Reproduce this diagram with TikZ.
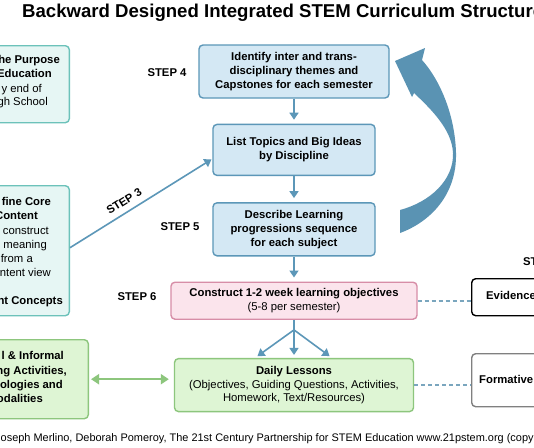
\documentclass[tikz,border=0pt]{standalone}
\usepackage{fontspec}
\setmainfont{Liberation Sans}
\usetikzlibrary{positioning,arrows.meta}

\definecolor{fondoblu}{HTML}{D4E8F4}
\definecolor{bordoblu}{HTML}{5C97B8}
\definecolor{fondoteal}{HTML}{E6F6F4}
\definecolor{bordoteal}{HTML}{6CC2BA}
\definecolor{fondoverde}{HTML}{DEF5D4}
\definecolor{bordoverde}{HTML}{8DC67D}
\definecolor{fondorosa}{HTML}{FBE4EC}
\definecolor{bordorosa}{HTML}{D78DA7}
\definecolor{trattino}{HTML}{7AA6BE}
\definecolor{grande}{HTML}{5A93B3}

\tikzset{
  box/.style={draw, rounded corners=4pt, line width=1.4pt, align=center, inner sep=2pt,
    font=\bfseries\fontsize{11.3}{13.8}\selectfont},
  blubox/.style={box, draw=bordoblu, fill=fondoblu},
  tealbox/.style={box, draw=bordoteal, fill=fondoteal},
  verdebox/.style={box, draw=bordoverde, fill=fondoverde},
  rosabox/.style={box, draw=bordorosa, fill=fondorosa},
  frag/.style={anchor=mid east, inner sep=0pt, font=\fontsize{11.3}{13.8}\selectfont},
  fragb/.style={frag, font=\bfseries\fontsize{11.3}{13.8}\selectfont},
  passo/.style={inner sep=0pt, font=\bfseries\fontsize{11.3}{13.8}\selectfont},
  freccia/.style={-{Triangle[width=9pt,length=7pt]}, line width=1.6pt, draw=bordoblu, shorten >=4pt},
  tratteggio/.style={draw=trattino, line width=1.6pt, dash pattern=on 4pt off 3pt},
}

\begin{document}
\begin{tikzpicture}[x=1pt,y=-1pt]
  \useasboundingbox (0,0) rectangle (534,447);
  \fill[white] (0,0) rectangle (534,447);
  \clip (0,0) rectangle (534,447);

  % Titolo
  \node[anchor=base west, inner sep=0pt, font=\bfseries\fontsize{18.6}{21}\selectfont] (titolo) at (22,17)
    {Backward Designed Integrated STEM Curriculum Structure};

  % Colonna centrale
  \node[blubox, minimum width=190pt, minimum height=53pt] (temi) at (294,71.5)
    {Identify inter and trans-\\disciplinary themes and\\Capstones for each semester};
  \node[blubox, minimum width=162pt, minimum height=51pt, below=25pt of temi] (topics)
    {List Topics and Big Ideas\\by Discipline};
  \node[blubox, minimum width=162pt, minimum height=53pt, below=26pt of topics] (progr)
    {Describe Learning\\progressions sequence\\for each subject};
  \node[rosabox, minimum width=246pt, minimum height=37pt, below=25pt of progr] (obiettivi)
    {Construct 1-2 week learning objectives\\{\mdseries (5-8 per semester)}};
  \node[verdebox, minimum width=239pt, minimum height=53pt, below=38pt of obiettivi] (lezioni)
    {Daily Lessons\\{\mdseries (Objectives, Guiding Questions, Activities,}\\{\mdseries Homework, Text/Resources)}};

  % Etichette dei passi
  \node[passo] (step4) at (167,73) {STEP 4};
  \node[passo] (step5) at (180,227) {STEP 5};
  \node[passo] (step6) at (137,297) {STEP 6};
  \node[passo, anchor=mid west] (step7) at (523,263) {ST};

  % Riquadri a sinistra (tagliati dal bordo)
  \node[tealbox, minimum width=110pt, minimum height=77pt, anchor=north east] (scopo) at (70,45) {};
  \node[fragb] (s1) at (60,61) {he Purpose};
  \node[fragb] (s2) at (52,75) {Education};
  \node[frag] (s3) at (42,90) {y end of};
  \node[frag] (s4) at (48,103) {gh School};

  \node[tealbox, minimum width=110pt, minimum height=130pt, anchor=north east] (nucleo) at (70,185) {};
  \node[fragb] (n1) at (51,203) {fine Core};
  \node[fragb] (n2) at (38,217) {Content};
  \node[frag] (n3) at (49,232) {construct};
  \node[frag] (n4) at (47,246) {meaning};
  \node[frag] (n5) at (33,260) {from a};
  \node[frag] (n6) at (51,274) {ntent view};
  \node[fragb] (n7) at (63,302) {nt Concepts};

  \node[verdebox, minimum width=120pt, minimum height=79pt, anchor=north east] (formale) at (89,339) {};
  \node[fragb] (f1) at (64,357) {l \& Informal};
  \node[fragb] (f2) at (67,372) {ng Activities,};
  \node[fragb] (f3) at (63,386) {ologies and};
  \node[fragb] (f4) at (43,400) {odalities};

  % Riquadri a destra
  \node[box, draw=black, minimum width=100pt, minimum height=37pt, anchor=north west] (evidenze) at (471,278) {};
  \node[passo, anchor=mid west] (ev) at (486,297) {Evidence};
  \node[box, draw=black!50, minimum width=100pt, minimum height=53pt, anchor=north west] (formativa) at (471,353) {};
  \node[passo, anchor=mid west] (fo) at (479,381) {Formative};

  % Frecce
  \draw[freccia] (temi) -- (topics);
  \draw[freccia] (topics) -- (progr);
  \draw[freccia] (progr) -- (obiettivi);
  \coordinate[below=10pt of obiettivi.south] (bivio);
  \draw[line width=1.6pt, draw=bordoblu] (obiettivi.south) -- (bivio);
  \draw[freccia, shorten >=3pt] (bivio) -- ([xshift=-39pt]lezioni.north);
  \draw[freccia, shorten >=3pt] (bivio) -- (lezioni.north);
  \draw[freccia, shorten >=3pt] (bivio) -- ([xshift=38pt]lezioni.north);
  \draw[freccia, shorten >=1pt] ([yshift=3pt]nucleo.east) -- node[passo, sloped, above=6pt, pos=0.42] (step3) {STEP 3} ([yshift=-9pt]topics.west);
  \draw[{Triangle[width=10pt,length=8pt]}-{Triangle[width=10pt,length=8pt]}, line width=2pt, draw=bordoverde,
    shorten <=2pt, shorten >=5pt] (formale.east) -- (formale.east -| lezioni.west);
  \draw[tratteggio] (obiettivi.east) -- (obiettivi.east -| evidenze.west);
  \draw[tratteggio] (lezioni.east) -- (lezioni.east -| formativa.west);

  % Freccia grande curva
  \fill[grande] (400,233) .. controls (430,222) and (457,195) .. (456,153)
    .. controls (455,115) and (440,80) .. (422,60) -- (425,48) -- (395,61) -- (412,97) -- (414,93)
    .. controls (432,110) and (452,130) .. (453,153)
    .. controls (454,180) and (430,202) .. (400,210) -- cycle;

  % Crediti
  \node[anchor=mid west, inner sep=0pt, font=\fontsize{10.95}{12}\selectfont] (crediti) at (0.5,439)
    {oseph Merlino, Deborah Pomeroy, The 21st Century Partnership for STEM Education www.21pstem.org (copy};
\end{tikzpicture}
\end{document}
